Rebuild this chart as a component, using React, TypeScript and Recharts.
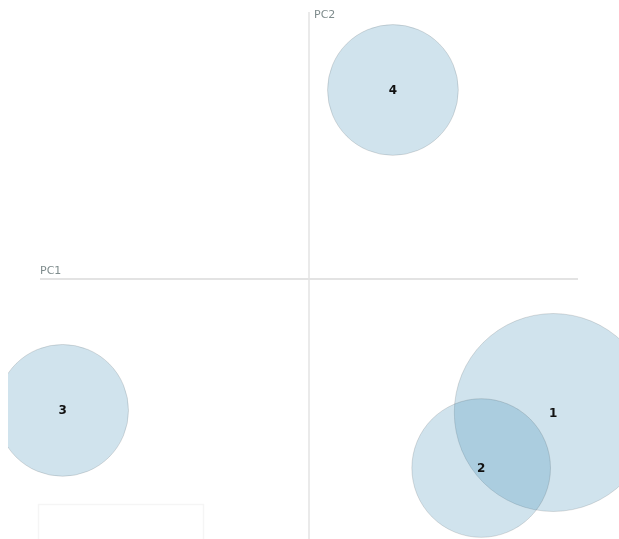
import { ScatterChart, Scatter, XAxis, YAxis, ZAxis, ReferenceLine } from "recharts";

// topic ids, their PC coordinates and marginal share (%)
const topics = ["1", "2", "3", "4"];
const pc1 = [0.227, 0.160, -0.229, 0.078];
const pc2 = [-0.125, -0.177, -0.123, 0.177];
const share = [42.4, 20.8, 18.8, 18.5];

const data = topics.map((t, i) => ({ topic: t, x: pc1[i], y: pc2[i], z: share[i] }));

const TopicCircle = (props: any) => {
  const { cx, cy, width, payload } = props;
  const r = width / 2;
  return (
    <g>
      <circle
        cx={cx}
        cy={cy}
        r={r}
        fill="#1273a6"
        fillOpacity={0.2}
        stroke="#000"
        strokeOpacity={0.12}
        strokeWidth={1}
      />
      <text
        x={cx}
        y={cy}
        dy={4}
        textAnchor="middle"
        fontFamily="'DejaVu Sans', sans-serif"
        fontSize={12}
        fontWeight="bold"
        fill="#111"
      >
        {payload.topic}
      </text>
    </g>
  );
};

export default function App() {
  return (
    <div
      style={{
        position: "fixed",
        left: 8,
        top: 8,
        width: 660,
        height: 531,
        overflow: "hidden",
      }}
    >
      <ScatterChart
        width={660}
        height={540}
        style={{ maxWidth: "none" }}
        margin={{ top: 4, right: 90, left: 32, bottom: 2 }}
      >
        <XAxis type="number" dataKey="x" domain={[-0.25, 0.25]} hide />
        <YAxis type="number" dataKey="y" domain={[-0.25, 0.25]} hide />
        <ZAxis type="number" dataKey="z" domain={[0, 100]} range={[0, 72600]} />
        <ReferenceLine x={0} stroke="#e3e3e3" strokeWidth={1.5} />
        <ReferenceLine y={0} stroke="#e3e3e3" strokeWidth={2} />
        <text x={306} y={10} fontFamily="'DejaVu Sans', sans-serif" fontSize={11} fill="#7f8c8d">
          PC2
        </text>
        <text x={32} y={266} fontFamily="'DejaVu Sans', sans-serif" fontSize={11} fill="#7f8c8d">
          PC1
        </text>
        <rect x={30.5} y={496.5} width={165} height={60} fill="none" stroke="#f5f5f5" strokeWidth={1.5} />
        <Scatter data={data} shape={TopicCircle} isAnimationActive={false} />
      </ScatterChart>
    </div>
  );
}
